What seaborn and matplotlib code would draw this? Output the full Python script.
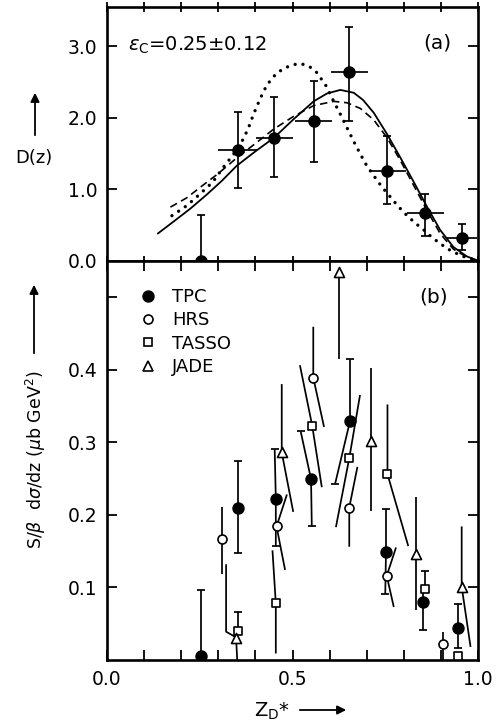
import matplotlib
matplotlib.use("Agg")
import matplotlib.pyplot as plt
import seaborn as sns
import pandas as pd
from matplotlib.lines import Line2D

# ---------------- panel (a) data ----------------
a_x = [0.253, 0.352, 0.451, 0.557, 0.653, 0.755, 0.858, 0.957]
a_y = [0.00, 1.55, 1.72, 1.95, 2.64, 1.25, 0.67, 0.32]
a_hi = [0.64, 2.08, 2.29, 2.52, 3.27, 1.75, 0.94, 0.52]
a_lo = [0.00, 1.02, 1.17, 1.38, 1.96, 0.80, 0.35, 0.15]
a_xerr = [0.0, 0.053, 0.05, 0.05, 0.05, 0.05, 0.05, 0.04]

solid_x = [0.137, 0.18, 0.225, 0.27, 0.31, 0.35, 0.40, 0.45, 0.503, 0.557, 0.593, 0.629,
           0.665, 0.69, 0.719, 0.755, 0.791, 0.827, 0.863, 0.898, 0.934, 0.970, 1.0]
solid_y = [0.38, 0.55, 0.73, 0.93, 1.12, 1.33, 1.53, 1.72, 1.98, 2.23, 2.34, 2.39,
           2.35, 2.25, 2.07, 1.77, 1.44, 1.10, 0.75, 0.43, 0.19, 0.06, 0.0]

dash_x = [0.171, 0.215, 0.252, 0.30, 0.35, 0.40, 0.449, 0.503, 0.557, 0.611, 0.647, 0.683,
          0.719, 0.755, 0.791, 0.827, 0.863, 0.898, 0.934, 0.97, 1.0]
dash_y = [0.75, 0.88, 1.03, 1.22, 1.44, 1.64, 1.84, 2.02, 2.17, 2.23, 2.21, 2.13,
          1.97, 1.72, 1.40, 1.05, 0.70, 0.38, 0.16, 0.05, 0.0]

dot_x = [0.175, 0.215, 0.252, 0.285, 0.314, 0.34, 0.36, 0.38, 0.395, 0.413, 0.431, 0.455,
         0.476, 0.50, 0.521, 0.545, 0.566, 0.59, 0.611, 0.63, 0.647, 0.665, 0.683, 0.70,
         0.719, 0.74, 0.764, 0.785, 0.809, 0.83, 0.854, 0.875, 0.898, 0.92, 0.943, 0.96,
         0.979, 1.0]
dot_y = [0.63, 0.77, 0.94, 1.10, 1.31, 1.48, 1.63, 1.84, 2.05, 2.27, 2.46, 2.61,
         2.69, 2.74, 2.76, 2.72, 2.63, 2.45, 2.23, 2.04, 1.86, 1.67, 1.49, 1.33,
         1.19, 1.04, 0.89, 0.76, 0.63, 0.53, 0.43, 0.33, 0.24, 0.16, 0.10, 0.06,
         0.03, 0.0]

# ---------------- panel (b) data ----------------
tpc_x = [0.253, 0.354, 0.455, 0.550, 0.655, 0.752, 0.853, 0.947]
tpc_y = [0.005, 0.210, 0.222, 0.249, 0.329, 0.149, 0.080, 0.044]
tpc_top_x = [0.253, 0.354, 0.452, 0.522, 0.655, 0.752, 0.853, 0.947]
tpc_top_y = [0.096, 0.274, 0.290, 0.315, 0.414, 0.208, 0.098, 0.077]
tpc_bot_x = [0.253, 0.354, 0.455, 0.552, 0.615, 0.750, 0.853, 0.947]
tpc_bot_y = [0.005, 0.147, 0.157, 0.184, 0.243, 0.091, 0.042, 0.017]
tpc_top_cap = [1, 1, 1, 1, 1, 1, 0, 1]
tpc_bot_cap = [0, 1, 1, 1, 1, 1, 1, 1]

hrs_x = [0.311, 0.457, 0.556, 0.653, 0.754, 0.905]
hrs_y = [0.166, 0.184, 0.389, 0.210, 0.116, 0.022]
hrs_top_x = [0.311, 0.485, 0.556, 0.675, 0.779, 0.905]
hrs_top_y = [0.211, 0.228, 0.459, 0.266, 0.155, 0.039]
hrs_bot_x = [0.311, 0.480, 0.585, 0.653, 0.773, 0.905]
hrs_bot_y = [0.119, 0.124, 0.321, 0.156, 0.073, 0.0]
hrs_top_cap = [0, 0, 0, 0, 0, 0]
hrs_bot_cap = [0, 0, 0, 0, 0, 0]

tasso_x = [0.354, 0.455, 0.553, 0.653, 0.756, 0.857, 0.945]
tasso_y = [0.040, 0.078, 0.323, 0.278, 0.256, 0.098, 0.005]
tasso_top_x = [0.354, 0.446, 0.520, 0.682, 0.756, 0.857, 0.945]
tasso_top_y = [0.066, 0.151, 0.406, 0.365, 0.352, 0.122, 0.005]
tasso_bot_x = [0.354, 0.455, 0.579, 0.617, 0.812, 0.857, 0.945]
tasso_bot_y = [0.040, 0.009, 0.238, 0.183, 0.157, 0.098, 0.005]
tasso_top_cap = [1, 0, 0, 0, 0, 1, 0]
tasso_bot_cap = [0, 0, 0, 0, 0, 0, 0]

jade_x = [0.348, 0.471, 0.625, 0.712, 0.833, 0.956]
jade_y = [0.030, 0.286, 0.534, 0.302, 0.146, 0.101]
jade_top_x = [0.348, 0.471, 0.625, 0.712, 0.833, 0.956]
jade_top_y = [0.030, 0.380, 0.534, 0.402, 0.225, 0.184]
jade_bot_x = [0.351, 0.502, 0.625, 0.712, 0.833, 0.980]
jade_bot_y = [0.0, 0.204, 0.415, 0.205, 0.069, 0.018]
jade_top_cap = [0, 0, 0, 0, 0, 0]
jade_bot_cap = [0, 0, 0, 0, 0, 0]
jade_bend_x = [0.321, 0.321, 0.345]
jade_bend_y = [0.131, 0.039, 0.032]

labels_b = ["TPC", "HRS", "TASSO", "JADE"]

# ---------------- figure ----------------
sns.set_theme(style="ticks")
plt.rcParams["font.family"] = ["DejaVu Sans"]
plt.rcParams["mathtext.fontset"] = "dejavusans"
for k in ("text.color", "axes.labelcolor", "xtick.color", "ytick.color", "axes.edgecolor"):
    plt.rcParams[k] = "black"

W, H = 497, 723
fig = plt.figure(figsize=(W / 100, H / 100), dpi=100)
axa = fig.add_axes([107 / W, 1 - 260.7 / H, 371 / W, 253.7 / H])
axb = fig.add_axes([107 / W, 1 - 660 / H, 371 / W, 399.3 / H])

LW = 1.25
for ax in (axa, axb):
    for s in ax.spines.values():
        s.set_linewidth(1.9)
        s.set_color("black")
    ax.set_xlim(0, 1)
    ax.set_facecolor("white")

# ---- panel (a)
dfa = pd.DataFrame({"x": solid_x, "y": solid_y})
sns.lineplot(data=dfa, x="x", y="y", ax=axa, color="black", lw=1.3,
             estimator=None, sort=False)
dfd = pd.DataFrame({"x": dash_x, "y": dash_y})
sns.lineplot(data=dfd, x="x", y="y", ax=axa, color="black", lw=1.2,
             linestyle=(0, (4.5, 2.8)), estimator=None, sort=False)
dfo = pd.DataFrame({"x": dot_x, "y": dot_y})
sns.lineplot(data=dfo, x="x", y="y", ax=axa, color="black", lw=2.4,
             linestyle=(0, (0.01, 2.4)), dash_capstyle="round",
             estimator=None, sort=False)

yerr_lo = [yy - lo for yy, lo in zip(a_y, a_lo)]
yerr_hi = [hi - yy for yy, hi in zip(a_y, a_hi)]
axa.errorbar(a_x, a_y, yerr=[yerr_lo, yerr_hi], fmt="o", color="black", ms=8,
             elinewidth=LW, capsize=3.2, capthick=LW, zorder=4)
axa.errorbar(a_x, a_y, xerr=a_xerr, fmt="none", ecolor="black",
             elinewidth=LW, capsize=0, zorder=4)

axa.set_ylim(0, 3.55)
axa.set_yticks([0, 1, 2, 3])
axa.set_yticklabels(["0.0", "1.0", "2.0", "3.0"])
axa.set_xticks([i / 10 for i in range(11)])
axa.tick_params(axis="x", which="both", direction="inout", top=True, bottom=True,
                labelbottom=False, length=7, width=1.3)
axa.tick_params(axis="y", direction="in", left=True, right=True, length=7.5,
                width=1.3, labelsize=13.5, pad=7)
axa.set_xlabel("")
axa.set_ylabel("")
axa.text(0.057, 0.85, r"$\epsilon_{\mathregular{C}}$=0.25$\pm$0.12", transform=axa.transAxes,
         fontsize=14, ha="left", va="center")
axa.text(0.89, 0.858, "(a)", transform=axa.transAxes, fontsize=14.5,
         ha="center", va="center")

# ---- panel (b)
series = [
    (tpc_x, tpc_y, tpc_top_x, tpc_top_y, tpc_bot_x, tpc_bot_y, tpc_top_cap, tpc_bot_cap,
     "o", "black", 60),
    (hrs_x, hrs_y, hrs_top_x, hrs_top_y, hrs_bot_x, hrs_bot_y, hrs_top_cap, hrs_bot_cap,
     "o", "white", 42),
    (tasso_x, tasso_y, tasso_top_x, tasso_top_y, tasso_bot_x, tasso_bot_y, tasso_top_cap,
     tasso_bot_cap, "s", "white", 32),
    (jade_x, jade_y, jade_top_x, jade_top_y, jade_bot_x, jade_bot_y, jade_top_cap,
     jade_bot_cap, "^", "white", 52),
]
for (xs, ys, txs, tys, bxs, bys, tc, bc, mk, fc, sz) in series:
    for i in range(len(xs)):
        axb.plot([txs[i], xs[i], bxs[i]], [tys[i], ys[i], bys[i]], color="black",
                 lw=LW, zorder=2, solid_capstyle="butt")
        if tc[i]:
            axb.plot([txs[i]], [tys[i]], marker="_", ms=6, mew=LW, color="black", zorder=2)
        if bc[i]:
            axb.plot([bxs[i]], [bys[i]], marker="_", ms=6, mew=LW, color="black", zorder=2)
axb.plot(jade_bend_x, jade_bend_y, color="black", lw=LW, zorder=2)

handles = []
for (xs, ys, *_rest), lab in zip(series, labels_b):
    mk, fc, sz = _rest[-3], _rest[-2], _rest[-1]
    sns.scatterplot(x=xs, y=ys, ax=axb, marker=mk, s=sz, facecolor=fc,
                    edgecolor="black", linewidth=1.2, zorder=3)
    handles.append(Line2D([], [], ls="none", marker=mk, ms=sz ** 0.5,
                          markerfacecolor=fc, markeredgecolor="black",
                          markeredgewidth=1.2, label=lab))

axb.legend(handles=handles, loc="upper left", bbox_to_anchor=(0.085, 0.932),
           frameon=False, fontsize=13, handlelength=1.0, handletextpad=0.85,
           labelspacing=0.3, borderpad=0, borderaxespad=0)

axb.set_ylim(0, 0.55)
axb.set_yticks([0.1, 0.2, 0.3, 0.4, 0.5])
axb.set_yticklabels(["0.1", "0.2", "0.3", "0.4", ""])
axb.set_xticks([0.0, 0.5, 1.0])
axb.set_xticklabels(["0.0", "0.5", "1.0"])
axb.set_xticks([i / 10 for i in range(11)], minor=True)
axb.tick_params(axis="x", which="both", direction="in", top=True, bottom=True,
                length=7, width=1.3, labelsize=13.5, pad=7)
axb.tick_params(axis="y", direction="in", left=True, right=True, length=7.5,
                width=1.3, labelsize=13.5, pad=7)
axb.set_xlabel("")
axb.set_ylabel("")
axb.text(0.879, 0.91, "(b)", transform=axb.transAxes, fontsize=14.5,
         ha="center", va="center")

# ---- axis labels with arrows
fig.text(34 / W, 1 - 158 / H, "D(z)", ha="center", va="center", fontsize=13)
fig.add_artist(matplotlib.patches.FancyArrowPatch(
    (35 / W, 1 - 138 / H), (35 / W, 1 - 90 / H), transform=fig.transFigure,
    arrowstyle="-|>", mutation_scale=13, lw=1.3, color="black"))

fig.text(36 / W, 1 - 460 / H, r"S/$\beta$  d$\sigma$/dz ($\mu$b GeV$^2$)", rotation=90,
         ha="center", va="center", fontsize=12.5)
fig.add_artist(matplotlib.patches.FancyArrowPatch(
    (34 / W, 1 - 356 / H), (34 / W, 1 - 282 / H), transform=fig.transFigure,
    arrowstyle="-|>", mutation_scale=13, lw=1.3, color="black"))

fig.text(272 / W, 1 - 711 / H, r"Z$_{\mathregular{D}}$*", ha="center", va="center",
         fontsize=14)
fig.add_artist(matplotlib.patches.FancyArrowPatch(
    (297 / W, 1 - 710 / H), (349 / W, 1 - 710 / H), transform=fig.transFigure,
    arrowstyle="-|>", mutation_scale=13, lw=1.3, color="black"))

fig.savefig("out.png", dpi=100, facecolor="white")
